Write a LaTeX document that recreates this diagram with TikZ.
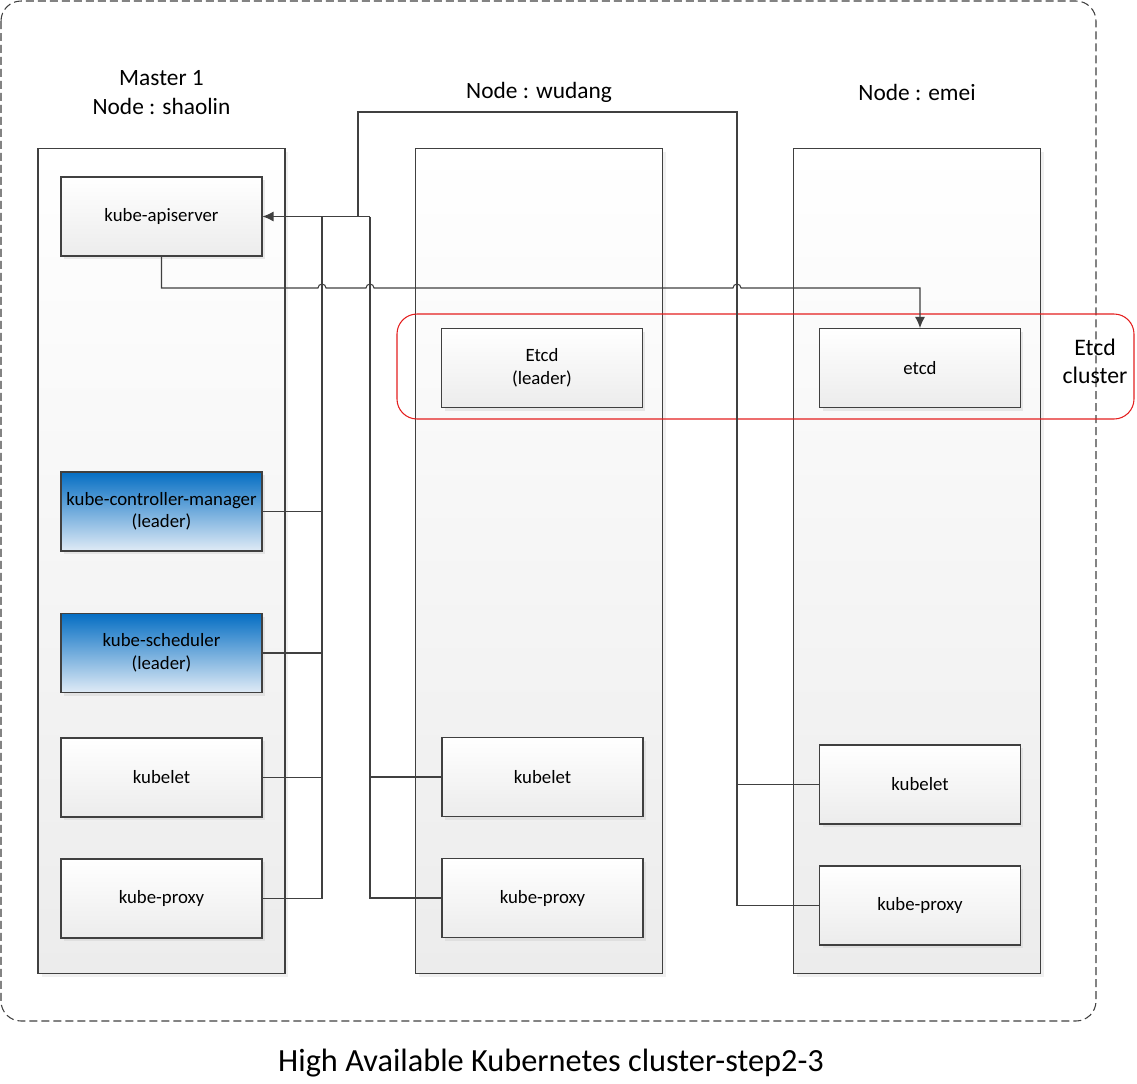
\documentclass[tikz,border=0pt]{standalone}
\usepackage{fontspec}
\setmainfont{Carlito}
\usetikzlibrary{arrows.meta,shadows}
\definecolor{lineGray}{RGB}{64,64,64}
\definecolor{boxBottom}{RGB}{236,236,236}
\definecolor{leaderTop}{RGB}{5,110,195}
\definecolor{leaderBottom}{RGB}{224,235,246}
\definecolor{clusterRed}{RGB}{228,30,30}

\tikzset{
  comp/.style={draw=lineGray, line width=0.6pt, top color=white, bottom color=boxBottom,
    minimum width=4.02cm, minimum height=1.58cm, align=center, inner sep=1pt,
    font=\fontsize{10.7}{12.8}\selectfont,
    drop shadow={shadow xshift=0.06cm, shadow yshift=-0.06cm, fill=black!20, opacity=0.4}},
  leader/.style={comp, top color=leaderTop, bottom color=leaderBottom},
  host/.style={draw=lineGray, line width=0.6pt, top color=white, bottom color=boxBottom,
    minimum width=4.94cm, minimum height=16.52cm,
    drop shadow={shadow xshift=0.07cm, shadow yshift=-0.07cm, fill=black!15, opacity=0.4}},
  hostlabel/.style={align=center, font=\fontsize{13.3}{16.4}\selectfont},
  wire/.style={draw=lineGray, line width=0.6pt},
}

\begin{document}
\begin{tikzpicture}[x=0.02cm, y=-0.02cm]
    \newcommand\busAx{322}
    \newcommand\busBx{370}
    \newcommand\busCx{358}
    \newcommand\ringx{737}
    \newcommand\hopy{288}
    \newcommand\hop{arc[start angle=180, end angle=0, radius=0.08cm]}

    \useasboundingbox (0,0) rectangle (1137,1083);
    \draw[lineGray, line width=0.6pt, dash pattern=on 0.16cm off 0.08cm, rounded corners=0.4cm] (1,1) rectangle (1096,1021);

    % hosts
    \node[host] (master) at (161.5,561) {};
    \node[host] (wudang) at (539,561) {};
    \node[host] (emei) at (917,561) {};
    \node[hostlabel] (masterLbl) at (161.5,92.5) {Master 1\\Node : shaolin};
    \node[hostlabel] (wudangLbl) at (539,92.5) {Node : wudang};
    \node[hostlabel] (emeiLbl) at (917,92.5) {Node : emei};

    % master components
    \node[comp] (api) at (161.5,216.5) {kube-apiserver};
    \node[leader] (ctrl) at (161.5,511.5) {kube-controller-manager\\(leader)};
    \node[leader] (sched) at (161.5,653) {kube-scheduler\\(leader)};
    \node[comp] (kubelet1) at (161.5,777.5) {kubelet};
    \node[comp] (proxy1) at (161.5,898.5) {kube-proxy};

    % wudang components
    \node[comp] (etcdLead) at (542,368) {Etcd\\(leader)};
    \node[comp] (kubelet2) at (542.5,777) {kubelet};
    \node[comp] (proxy2) at (542.5,898) {kube-proxy};

    % emei components
    \node[comp] (etcd3) at (920,368) {etcd};
    \node[comp] (kubelet3) at (920,784.5) {kubelet};
    \node[comp] (proxy3) at (920,905.5) {kube-proxy};

    % etcd cluster
    \draw[clusterRed, line width=0.6pt, rounded corners=0.4cm] (397,314) rectangle (1134,419);
    \node[align=center, font=\fontsize{13.5}{16}\selectfont] (etcdLbl) at (1095,361.5) {Etcd\\cluster};

    % buses to the apiserver
    \coordinate (busA) at (\busAx,216.5);
    \coordinate (busB) at (\busBx,216.5);
    \coordinate (busC) at (\busCx,216.5);
    \coordinate (ringTop) at (\ringx,112);

    \draw[wire] (proxy1.east) -| (busA);
    \foreach \n in {ctrl,sched,kubelet1}
        \draw[wire] (\n.east) -- (\n.east -| busA);

    \draw[wire] (proxy2.west) -| (busB);
    \draw[wire] (kubelet2.west) -- (kubelet2.west -| busB);

    \draw[wire] (busC) |- (ringTop) |- (proxy3.west);
    \draw[wire] (kubelet3.west) -- (kubelet3.west -| ringTop);

    % draw arrow
    \draw[wire, -{Latex[length=2.2mm, width=2mm]}] (busB) -- (api.east);
    \draw[wire, -{Latex[length=2.2mm, width=2mm]}] (api.south) |- (\busAx-4,\hopy) \hop
        -- (\busBx-4,\hopy) \hop -- (\ringx-4,\hopy) \hop -| (etcd3.north);

    \node[font=\fontsize{18.4}{22}\selectfont] (title) at (551,1063) {High Available Kubernetes cluster-step2-3};
\end{tikzpicture}
\end{document}
